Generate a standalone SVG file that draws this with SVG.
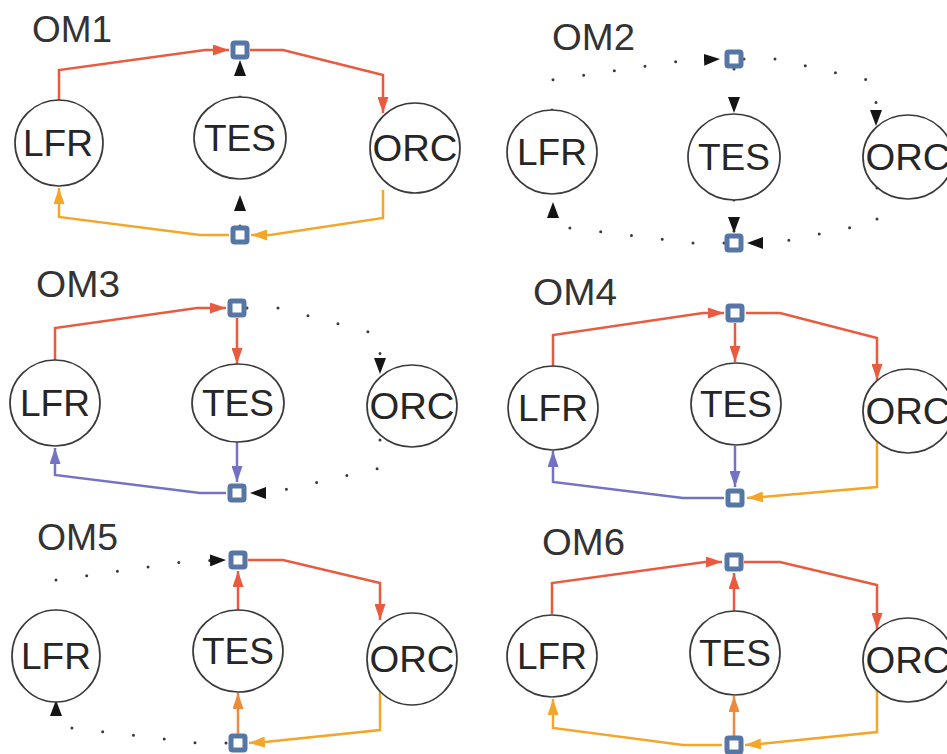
<svg xmlns="http://www.w3.org/2000/svg" width="947" height="754" viewBox="0 0 947 754">
<style>
.c{fill:#fff;stroke:#3a3a3a;stroke-width:1.7}
.t{font-family:"Liberation Sans",Arial,sans-serif;font-size:37px;fill:#262626;text-anchor:middle}
.h{font-family:"Liberation Sans",Arial,sans-serif;font-size:36px;fill:#333}
.j{fill:#fff;stroke:#5677a6;stroke-width:5}
.r{fill:none;stroke:#ea5a3f;stroke-width:2.5;marker-end:url(#aR)}
.o{fill:none;stroke:#f4a62a;stroke-width:2.5;marker-end:url(#aO)}
.p{fill:none;stroke:#7472c4;stroke-width:2.5;marker-end:url(#aP)}
.d{fill:none;stroke:#ef8a38;stroke-width:2.5;marker-end:url(#aD)}
.k{fill:none;stroke:#3a3a3a;stroke-width:3;stroke-dasharray:0 31;stroke-linecap:round;marker-end:url(#aK)}
</style>
<defs>
<marker id="aR" viewBox="0 0 16 11" refX="16" refY="5.5" markerWidth="16" markerHeight="11" markerUnits="userSpaceOnUse" orient="auto"><path d="M0,0L16,5.5L0,11Z" fill="#ea5a3f"/></marker>
<marker id="aO" viewBox="0 0 16 11" refX="16" refY="5.5" markerWidth="16" markerHeight="11" markerUnits="userSpaceOnUse" orient="auto"><path d="M0,0L16,5.5L0,11Z" fill="#f4a62a"/></marker>
<marker id="aP" viewBox="0 0 16 11" refX="16" refY="5.5" markerWidth="16" markerHeight="11" markerUnits="userSpaceOnUse" orient="auto"><path d="M0,0L16,5.5L0,11Z" fill="#7472c4"/></marker>
<marker id="aD" viewBox="0 0 16 11" refX="16" refY="5.5" markerWidth="16" markerHeight="11" markerUnits="userSpaceOnUse" orient="auto"><path d="M0,0L16,5.5L0,11Z" fill="#ef8a38"/></marker>
<marker id="aK" viewBox="0 0 16 12" refX="16" refY="6" markerWidth="16" markerHeight="12" markerUnits="userSpaceOnUse" orient="auto"><path d="M0,0L16,6L0,12Z" fill="#141414"/></marker>
</defs>

<g id="titles">
<text class="h" x="32" y="42" textLength="80" lengthAdjust="spacingAndGlyphs">OM1</text>
<text class="h" x="552" y="50" textLength="83" lengthAdjust="spacingAndGlyphs">OM2</text>
<text class="h" x="36" y="297" textLength="84" lengthAdjust="spacingAndGlyphs">OM3</text>
<text class="h" x="533" y="305" textLength="84" lengthAdjust="spacingAndGlyphs">OM4</text>
<text class="h" x="37" y="550" textLength="81" lengthAdjust="spacingAndGlyphs">OM5</text>
<text class="h" x="542" y="555" textLength="83" lengthAdjust="spacingAndGlyphs">OM6</text>
</g>

<g id="connectors">
<!-- OM1 -->
<path class="r" d="M59,100 L59,70 L205,50 L229,50"/>
<path class="r" d="M250,50 L283,50 L383,75 L383,113"/>
<path class="o" d="M383,190 L383,218 L270,235 L251,235"/>
<path class="o" d="M229,235 L200,235 L59,217 L59,188"/>
<path class="k" d="M240,97 L240,60"/>
<path class="k" d="M240,226 L240,195"/>
<!-- OM2 -->
<path class="k" d="M552,110 L552,80 L680,61 L720,59"/>
<path class="k" d="M744,59 L776,59 L876,82 L876,126"/>
<path class="k" d="M734,69 L734,113"/>
<path class="k" d="M734,200 L734,233"/>
<path class="k" d="M877,188 L877,222 L775,243 L747,243"/>
<path class="k" d="M724,243 L693,243 L553,226 L553,202"/>
<!-- OM3 -->
<path class="r" d="M55,360 L55,328 L197,308 L226,308"/>
<path class="r" d="M237,318 L237,364"/>
<path class="k" d="M247,308 L279,308 L380,335 L380,374"/>
<path class="p" d="M237,442 L237,482"/>
<path class="p" d="M226,493 L200,493 L55,475 L55,448"/>
<path class="k" d="M380,440 L380,468 L270,493 L250,493"/>
<!-- OM4 -->
<path class="r" d="M553,366 L553,335 L703,313 L724,313"/>
<path class="r" d="M746,313 L780,313 L877,338 L877,380"/>
<path class="r" d="M735,323 L735,362"/>
<path class="p" d="M735,446 L735,487"/>
<path class="p" d="M724,498 L683,498 L553,482 L553,451"/>
<path class="o" d="M877,441 L877,487 L762,497 L747,498"/>
<!-- OM5 -->
<path class="k" d="M56,611 L56,580 L190,561 L226,560"/>
<path class="r" d="M238,610 L238,571"/>
<path class="r" d="M248,560 L283,560 L380,583 L380,620"/>
<path class="o" d="M380,691 L380,730 L265,742 L249,743"/>
<path class="d" d="M238,734 L238,693"/>
<path class="k" d="M226,743 L197,743 L56,726 L56,700"/>
<!-- OM6 -->
<path class="r" d="M552,614 L552,583 L705,562 L722,562"/>
<path class="r" d="M734,611 L734,573"/>
<path class="r" d="M744,562 L780,562 L877,585 L877,629"/>
<path class="o" d="M877,690 L877,732 L760,744 L745,745"/>
<path class="d" d="M734,736 L734,696"/>
<path class="o" d="M722,745 L683,745 L553,728 L553,699"/>
</g>

<!-- OM1 nodes -->
<g id="om1-lfr"><ellipse class="c" cx="59" cy="143" rx="44" ry="43"/><text class="t" x="58" y="156">LFR</text></g>
<g id="om1-tes"><ellipse class="c" cx="240" cy="138" rx="46" ry="41"/><text class="t" x="240" y="151">TES</text></g>
<g id="om1-orc"><ellipse class="c" cx="415" cy="148" rx="45" ry="45"/><text class="t" x="415" y="161" textLength="85" lengthAdjust="spacingAndGlyphs">ORC</text></g>
<g id="om1-jtop"><rect class="j" x="233" y="43" width="14" height="14" rx="1.5"/></g>
<g id="om1-jbot"><rect class="j" x="233" y="228" width="14" height="14" rx="1.5"/></g>

<!-- OM2 nodes -->
<g id="om2-lfr"><ellipse class="c" cx="552" cy="152" rx="45" ry="42"/><text class="t" x="552" y="165">LFR</text></g>
<g id="om2-tes"><ellipse class="c" cx="734" cy="157" rx="46" ry="43"/><text class="t" x="734" y="170">TES</text></g>
<g id="om2-orc"><ellipse class="c" cx="908" cy="157" rx="45" ry="42"/><text class="t" x="908" y="170" textLength="85" lengthAdjust="spacingAndGlyphs">ORC</text></g>
<g id="om2-jtop"><rect class="j" x="727" y="52" width="14" height="14" rx="1.5"/></g>
<g id="om2-jbot"><rect class="j" x="727" y="236" width="14" height="14" rx="1.5"/></g>

<!-- OM3 nodes -->
<g id="om3-lfr"><ellipse class="c" cx="55" cy="403" rx="45" ry="43"/><text class="t" x="55" y="416">LFR</text></g>
<g id="om3-tes"><ellipse class="c" cx="238" cy="403" rx="46" ry="39"/><text class="t" x="238" y="416">TES</text></g>
<g id="om3-orc"><ellipse class="c" cx="412" cy="406" rx="45" ry="41"/><text class="t" x="412" y="419" textLength="85" lengthAdjust="spacingAndGlyphs">ORC</text></g>
<g id="om3-jtop"><rect class="j" x="230" y="301" width="14" height="14" rx="1.5"/></g>
<g id="om3-jbot"><rect class="j" x="230" y="486" width="14" height="14" rx="1.5"/></g>

<!-- OM4 nodes -->
<g id="om4-lfr"><ellipse class="c" cx="553" cy="408" rx="45" ry="42"/><text class="t" x="553" y="421">LFR</text></g>
<g id="om4-tes"><ellipse class="c" cx="736" cy="404" rx="45" ry="41"/><text class="t" x="736" y="417">TES</text></g>
<g id="om4-orc"><ellipse class="c" cx="908" cy="411" rx="45" ry="42"/><text class="t" x="908" y="424" textLength="85" lengthAdjust="spacingAndGlyphs">ORC</text></g>
<g id="om4-jtop"><rect class="j" x="728" y="306" width="14" height="14" rx="1.5"/></g>
<g id="om4-jbot"><rect class="j" x="728" y="491" width="14" height="14" rx="1.5"/></g>

<!-- OM5 nodes -->
<g id="om5-lfr"><ellipse class="c" cx="56" cy="656" rx="44" ry="46"/><text class="t" x="56" y="669">LFR</text></g>
<g id="om5-tes"><ellipse class="c" cx="238" cy="651" rx="45" ry="41"/><text class="t" x="238" y="664">TES</text></g>
<g id="om5-orc"><ellipse class="c" cx="412" cy="659" rx="45" ry="46"/><text class="t" x="412" y="672" textLength="85" lengthAdjust="spacingAndGlyphs">ORC</text></g>
<g id="om5-jtop"><rect class="j" x="231" y="553" width="14" height="14" rx="1.5"/></g>
<g id="om5-jbot"><rect class="j" x="231" y="736" width="14" height="14" rx="1.5"/></g>

<!-- OM6 nodes -->
<g id="om6-lfr"><ellipse class="c" cx="552" cy="656" rx="45" ry="41"/><text class="t" x="552" y="669">LFR</text></g>
<g id="om6-tes"><ellipse class="c" cx="735" cy="653" rx="45" ry="42"/><text class="t" x="735" y="666">TES</text></g>
<g id="om6-orc"><ellipse class="c" cx="908" cy="660" rx="45" ry="42"/><text class="t" x="908" y="673" textLength="85" lengthAdjust="spacingAndGlyphs">ORC</text></g>
<g id="om6-jtop"><rect class="j" x="727" y="555" width="14" height="14" rx="1.5"/></g>
<g id="om6-jbot"><rect class="j" x="727" y="738" width="14" height="14" rx="1.5"/></g>
</svg>
